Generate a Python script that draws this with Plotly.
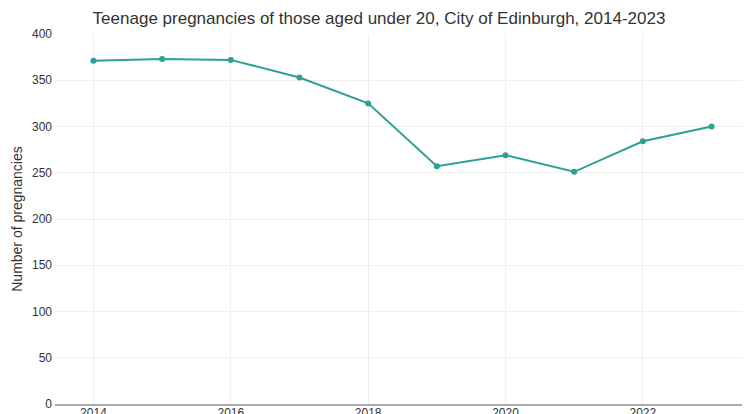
import plotly.graph_objects as go

years = [2014, 2015, 2016, 2017, 2018, 2019, 2020, 2021, 2022, 2023]
pregnancies = [371, 373, 372, 353, 325, 257, 269, 251, 284, 300]
x_ticks = [2014, 2016, 2018, 2020, 2022]
y_ticks = [0, 50, 100, 150, 200, 250, 300, 350, 400]

fig = go.Figure()
fig.add_trace(go.Scatter(
    x=years, y=pregnancies, mode="lines+markers",
    line=dict(color="#2ca194", width=2),
    marker=dict(color="#2ca194", size=6),
    showlegend=False,
))

fig.update_layout(
    width=742, height=406,
    margin=dict(l=47, r=0, t=26, b=10),
    paper_bgcolor="white", plot_bgcolor="white",
    font=dict(family="Liberation Sans, Arial, sans-serif", color="#333333", size=12),
    title=dict(text="Teenage pregnancies of those aged under 20, City of Edinburgh, 2014-2023",
               x=0.5, xanchor="center", y=0.975, yanchor="middle", automargin=False,
               font=dict(size=17, color="#333333")),
    xaxis=dict(range=[2013.44, 2023.56], tickvals=x_ticks, ticktext=[str(v) for v in x_ticks],
               showgrid=True, gridcolor="#eeeeee", gridwidth=1, zeroline=False,
               showline=True, linecolor="#aaaaaa", linewidth=2, ticks="", automargin=False,
               ticklabelstandoff=-3,
               tickfont=dict(size=12, color="#333333")),
    yaxis=dict(range=[0, 400], tickvals=y_ticks, showgrid=True, gridcolor="#eeeeee",
               gridwidth=1, zeroline=False, showline=False, ticks="", ticklabelstandoff=2,
               automargin=False,
               title=dict(text="Number of pregnancies", font=dict(size=14, color="#333333"), standoff=6),
               tickfont=dict(size=12, color="#333333")),
)

fig.write_html("out.html")
